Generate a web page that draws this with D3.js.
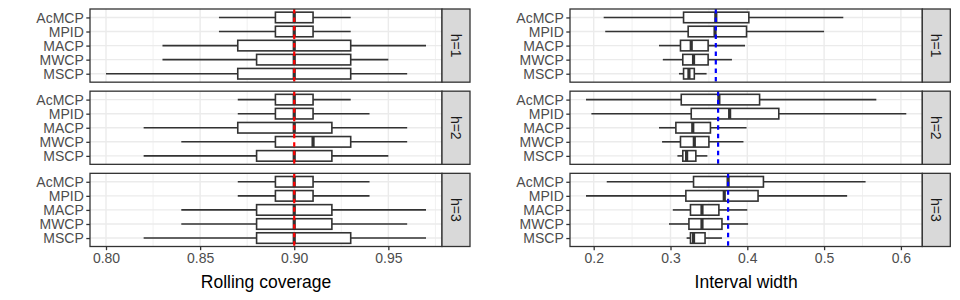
<!DOCTYPE html>
<html>
<head>
<meta charset="utf-8">
<script src="https://cdn.jsdelivr.net/npm/d3@7"></script>
<style>
    body { margin: 0; background: white; }
</style>
</head>
<body>
<div class="chart"></div>
<script>
// Paramètres de visualisation
const width = 960;
const height = 300;
const panelTop = 9;
const panelBottom = 246.5;
const panelGap = 9;
const stripWidth = 28;
const fontFamily = "'Liberation Sans', Arial, Helvetica, sans-serif";

// Catégories
const methods = ["AcMCP", "MPID", "MACP", "MWCP", "MSCP"];
const horizons = ["h=1", "h=2", "h=3"];

// Statistiques des boîtes : [moustache basse, Q1, médiane, Q3, moustache haute]
const coverageH1 = [
    [0.86, 0.89, 0.90, 0.91, 0.93],
    [0.86, 0.89, 0.90, 0.91, 0.93],
    [0.83, 0.87, 0.90, 0.93, 0.97],
    [0.83, 0.88, 0.90, 0.93, 0.95],
    [0.80, 0.87, 0.90, 0.93, 0.96]
];
const coverageH2 = [
    [0.87, 0.89, 0.90, 0.91, 0.93],
    [0.87, 0.89, 0.90, 0.91, 0.94],
    [0.82, 0.87, 0.90, 0.92, 0.96],
    [0.84, 0.89, 0.91, 0.93, 0.96],
    [0.82, 0.88, 0.90, 0.92, 0.95]
];
const coverageH3 = [
    [0.87, 0.89, 0.90, 0.91, 0.94],
    [0.87, 0.89, 0.90, 0.91, 0.94],
    [0.84, 0.88, 0.90, 0.92, 0.97],
    [0.84, 0.88, 0.90, 0.92, 0.96],
    [0.82, 0.88, 0.90, 0.93, 0.97]
];
const widthH1 = [
    [0.213, 0.317, 0.359, 0.402, 0.525],
    [0.215, 0.323, 0.358, 0.399, 0.500],
    [0.285, 0.313, 0.327, 0.349, 0.397],
    [0.290, 0.316, 0.330, 0.349, 0.380],
    [0.311, 0.317, 0.324, 0.331, 0.347]
];
const widthH2 = [
    [0.190, 0.314, 0.363, 0.416, 0.568],
    [0.197, 0.327, 0.377, 0.441, 0.607],
    [0.285, 0.307, 0.329, 0.352, 0.399],
    [0.289, 0.313, 0.331, 0.350, 0.395],
    [0.309, 0.316, 0.321, 0.333, 0.348]
];
const widthH3 = [
    [0.217, 0.330, 0.375, 0.421, 0.554],
    [0.190, 0.320, 0.370, 0.414, 0.530],
    [0.303, 0.326, 0.341, 0.363, 0.400],
    [0.298, 0.324, 0.341, 0.367, 0.401],
    [0.321, 0.326, 0.330, 0.345, 0.367]
];

// Lignes de référence
const coverageRefs = [0.90, 0.90, 0.90];
const widthRefs = [0.359, 0.362, 0.375];

// Graduations
const coverageTicks = [0.80, 0.85, 0.90, 0.95];
const coverageMinorTicks = [0.825, 0.875, 0.925, 0.975];
const widthTicks = [0.2, 0.3, 0.4, 0.5, 0.6];
const widthMinorTicks = [0.25, 0.35, 0.45, 0.55];

const svg = d3.select(".chart")
    .append("svg")
    .attr("width", width)
    .attr("height", height)
    .style("font-family", fontFamily);

function drawPlot(opts) {
    const all = opts.panels.flat(2);
    const lo = d3.min(all);
    const hi = d3.max(all);
    const pad = (hi - lo) * 0.05;

    // Axe horizontal commun aux trois panneaux
    const x = d3.scaleLinear()
        .domain([lo - pad, hi + pad])
        .range([opts.left, opts.right]);

    const panelH = (panelBottom - panelTop - 2 * panelGap) / 3;

    opts.panels.forEach((stats, i) => {
        const top = panelTop + i * (panelH + panelGap);
        const bottom = top + panelH;

        const y = d3.scalePoint()
            .domain(methods)
            .range([top, bottom])
            .padding(0.6);
        const bw = y.step() * 0.75;

        const g = svg.append("g");

        // Fond et grille
        g.append("rect")
            .attr("x", opts.left).attr("y", top)
            .attr("width", opts.right - opts.left).attr("height", panelH)
            .attr("fill", "white");

        g.selectAll(".minor")
            .data(opts.minorTicks)
            .join("line")
            .attr("class", "minor")
            .attr("x1", d => x(d)).attr("x2", d => x(d))
            .attr("y1", top).attr("y2", bottom)
            .attr("stroke", "#ebebeb").attr("stroke-width", 0.7);

        g.selectAll(".major")
            .data(opts.ticks)
            .join("line")
            .attr("class", "major")
            .attr("x1", d => x(d)).attr("x2", d => x(d))
            .attr("y1", top).attr("y2", bottom)
            .attr("stroke", "#ebebeb").attr("stroke-width", 1.4);

        g.selectAll(".hgrid")
            .data(methods)
            .join("line")
            .attr("class", "hgrid")
            .attr("x1", opts.left).attr("x2", opts.right)
            .attr("y1", d => y(d)).attr("y2", d => y(d))
            .attr("stroke", "#ebebeb").attr("stroke-width", 1.4);

        const rows = stats.map((s, j) => ({ method: methods[j], s: s }));

        // Moustaches
        const box = g.selectAll(".box")
            .data(rows)
            .join("g")
            .attr("class", "box");

        box.append("line")
            .attr("x1", d => x(d.s[0])).attr("x2", d => x(d.s[1]))
            .attr("y1", d => y(d.method)).attr("y2", d => y(d.method))
            .attr("stroke", "#333").attr("stroke-width", 1.6);
        box.append("line")
            .attr("x1", d => x(d.s[3])).attr("x2", d => x(d.s[4]))
            .attr("y1", d => y(d.method)).attr("y2", d => y(d.method))
            .attr("stroke", "#333").attr("stroke-width", 1.6);

        // Boîtes
        box.append("rect")
            .attr("x", d => x(d.s[1]))
            .attr("y", d => y(d.method) - bw / 2)
            .attr("width", d => x(d.s[3]) - x(d.s[1]))
            .attr("height", bw)
            .attr("fill", "white")
            .attr("stroke", "#333").attr("stroke-width", 1.6);

        // Médianes
        box.append("line")
            .attr("x1", d => x(d.s[2])).attr("x2", d => x(d.s[2]))
            .attr("y1", d => y(d.method) - bw / 2).attr("y2", d => y(d.method) + bw / 2)
            .attr("stroke", "#333").attr("stroke-width", 3.2);

        // Ligne de référence
        g.append("line")
            .attr("x1", x(opts.refs[i])).attr("x2", x(opts.refs[i]))
            .attr("y1", top).attr("y2", bottom)
            .attr("stroke", opts.refColor)
            .attr("stroke-width", 2.2)
            .attr("stroke-dasharray", "4.5,4");

        // Cadre du panneau
        g.append("rect")
            .attr("x", opts.left).attr("y", top)
            .attr("width", opts.right - opts.left).attr("height", panelH)
            .attr("fill", "none")
            .attr("stroke", "#333").attr("stroke-width", 1.3);

        // Bandeau
        g.append("rect")
            .attr("x", opts.right).attr("y", top)
            .attr("width", stripWidth).attr("height", panelH)
            .attr("fill", "#d9d9d9")
            .attr("stroke", "#333").attr("stroke-width", 1.3);

        g.append("text")
            .attr("transform", `translate(${opts.right + stripWidth / 2}, ${top + panelH / 2}) rotate(90)`)
            .attr("text-anchor", "middle")
            .attr("dy", "0.35em")
            .attr("fill", "#1a1a1a")
            .style("font-size", "14px")
            .text(horizons[i]);

        // Axe vertical
        svg.append("g")
            .attr("transform", `translate(${opts.left}, 0)`)
            .call(d3.axisLeft(y).tickSize(3.7).tickPadding(2.5))
            .call(a => a.select(".domain").remove())
            .call(a => a.selectAll(".tick line").attr("stroke", "#333").attr("stroke-width", 1.3))
            .call(a => a.selectAll(".tick text")
                .attr("fill", "#4d4d4d")
                .attr("dy", "0.35em")
                .style("font-size", "14px")
                .style("font-family", fontFamily));

        // Axe horizontal (dernier panneau)
        if (i === opts.panels.length - 1) {
            svg.append("g")
                .attr("transform", `translate(0, ${bottom})`)
                .call(d3.axisBottom(x).tickValues(opts.ticks).tickFormat(d3.format(opts.format)).tickSize(3.7).tickPadding(2.5))
                .call(a => a.select(".domain").remove())
                .call(a => a.selectAll(".tick line").attr("stroke", "#333").attr("stroke-width", 1.3))
                .call(a => a.selectAll(".tick text")
                    .attr("fill", "#4d4d4d")
                    .style("font-size", "14px")
                    .style("font-family", fontFamily));

            svg.append("text")
                .attr("x", (opts.left + opts.right) / 2)
                .attr("y", 287.5)
                .attr("text-anchor", "middle")
                .attr("fill", "black")
                .style("font-size", "17.5px")
                .text(opts.title);
        }
    });
}

drawPlot({
    left: 90, right: 442,
    panels: [coverageH1, coverageH2, coverageH3],
    refs: coverageRefs, refColor: "red",
    ticks: coverageTicks, minorTicks: coverageMinorTicks, format: ".2f",
    title: "Rolling coverage"
});

drawPlot({
    left: 570, right: 922.3,
    panels: [widthH1, widthH2, widthH3],
    refs: widthRefs, refColor: "blue",
    ticks: widthTicks, minorTicks: widthMinorTicks, format: ".1f",
    title: "Interval width"
});
</script>
</body>
</html>
